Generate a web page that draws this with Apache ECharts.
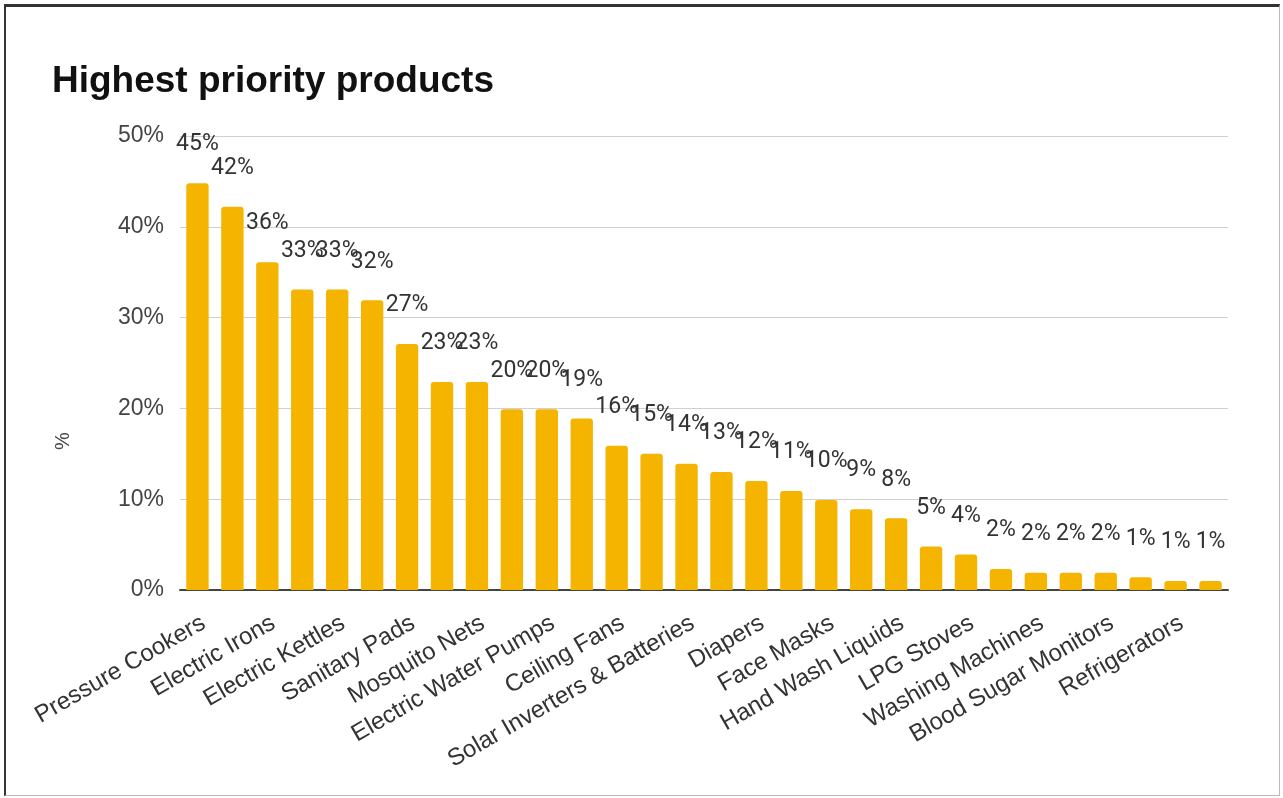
<!DOCTYPE html>
<html>
<head>
<meta charset="utf-8">
<script src="https://cdn.jsdelivr.net/npm/echarts@6/dist/echarts.min.js"></script>
<style>
  html, body { margin: 0; padding: 0; background: #fff; }
  #chart { position: absolute; left: 0; top: 0; width: 1283px; height: 798px; }
  #frame {
    position: absolute; left: 4px; top: 4px; width: 1276px; height: 792px;
    box-sizing: border-box; pointer-events: none;
    border-top: 3px solid #333; border-left: 2px solid #333;
    border-right: 1px solid #bbb; border-bottom: 1px solid #bbb;
  }
</style>
</head>
<body>
<div id="chart"></div>
<div id="frame"></div>
<script>
// products, in order of share (every other name is shown on the axis)
const products = [
  'Pressure Cookers', 'Water Purifiers', 'Electric Irons', 'Mixer Grinders',
  'Electric Kettles', 'LED Bulbs', 'Sanitary Pads', 'Solar Lamps',
  'Mosquito Nets', 'Gas Cylinders', 'Electric Water Pumps', 'Bicycles',
  'Ceiling Fans', 'Smartphones', 'Solar Inverters & Batteries', 'Sewing Machines',
  'Diapers', 'Thermometers', 'Face Masks', 'Induction Cooktops',
  'Hand Wash Liquids', 'Air Coolers', 'LPG Stoves', 'Televisions',
  'Washing Machines', 'Rice Cookers', 'Blood Sugar Monitors', 'Microwave Ovens',
  'Refrigerators', 'Air Conditioners'
]
// share of respondents, %
const shares = [
  44.8, 42.2, 36.1, 33.1, 33.1, 31.9, 27.1, 22.9, 22.9, 19.9,
  19.9, 18.9, 15.9, 15.0, 13.9, 13.0, 12.0, 10.9, 9.9, 8.9,
  7.9, 4.8, 3.9, 2.3, 1.9, 1.9, 1.9, 1.4, 1.0, 1.0
]
const yTicks = [0, 10, 20, 30, 40, 50]

const chart = echarts.init(document.getElementById('chart'))
const font = 'Liberation Sans, Arial, sans-serif'

chart.setOption({
  animation: false,
  textStyle: { fontFamily: font },
  title: {
    text: 'Highest priority products',
    left: 47, top: 58,
    textStyle: { fontSize: 37, fontWeight: 'bold', color: '#111', fontFamily: font }
  },
  // axis title sits lower than the plot centre, as in the original
  graphic: [{
    type: 'text',
    x: 63, y: 441,
    rotation: Math.PI / 2,
    style: { text: '%', font: '20px ' + font, fill: '#444', align: 'center', verticalAlign: 'middle' }
  }],
  grid: { left: 180, right: 55, top: 136, bottom: 208 },
  xAxis: {
    type: 'category',
    data: products,
    axisLine: { lineStyle: { color: '#444', width: 2 } },
    axisTick: { show: false },
    axisLabel: {
      interval: 1,
      rotate: 30,
      margin: 21,
      verticalAlign: 'top',
      fontSize: 24,
      color: '#333',
      fontFamily: font
    }
  },
  yAxis: {
    type: 'value',
    min: yTicks[0],
    max: yTicks[yTicks.length - 1],
    interval: 10,
    axisLine: { show: false },
    axisTick: { show: false },
    axisLabel: { formatter: '{value}%', fontSize: 23, color: '#444', margin: 16, fontFamily: font },
    splitLine: { lineStyle: { color: '#d0d0d0', width: 1 } }
  },
  series: [
    {
      type: 'bar',
      data: shares,
      barCategoryGap: '36%',
      itemStyle: { color: '#f4b400', borderRadius: [3, 3, 0, 0] },
      label: {
        show: true,
        position: 'top',
        distance: 27,
        fontSize: 23,
        color: '#333',
        fontFamily: 'Roboto, ' + font,
        formatter: p => Math.round(p.value) + '%'
      }
    }
  ]
})
</script>
</body>
</html>
